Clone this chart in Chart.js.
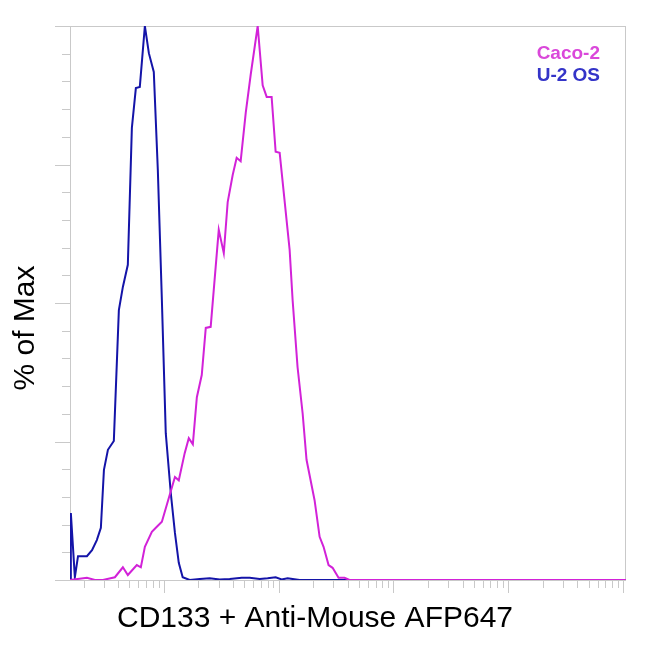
<!DOCTYPE html>
<html>
<head>
<meta charset="utf-8">
<script src="https://cdn.jsdelivr.net/npm/chart.js@4.4.1/dist/chart.umd.min.js"></script>
<style>
  html, body { margin: 0; padding: 0; background: #fff; }
  #wrap { width: 650px; height: 650px; }
</style>
</head>
<body>
<div id="wrap"><canvas id="histo" width="650" height="650"></canvas></div>
<script>
// series labels / colours
const seriesNames = ["Caco-2", "U-2 OS"];

// Caco-2 histogram (fluorescence, % of max)
const cacoX = [15.24, 21.4, 25.1, 29.5, 37.5, 44.0, 48.6, 58.2, 63.1, 68.4,
    78.7, 86.9, 96.2, 125, 135, 152, 165, 179, 194, 214,
    232, 256, 301, 333, 360, 398, 431, 467, 517, 571,
    657, 726, 787, 869, 942, 1021, 1247, 1324, 1462, 1618,
    1750, 2056, 2275, 2462, 2722, 2951, 3326, 3750, 4140, 1060000];
const cacoY = [0, 0.4, 0, 0, 0.5, 2.3, 0.9, 2.7, 2.3, 6.0,
    8.7, 9.6, 10.5, 18.6, 18.0, 22.9, 25.6, 24.5, 33.0, 37.0,
    45.5, 45.7, 63.2, 59.0, 68.2, 73.1, 76.2, 75.6, 84.3, 91.2,
    100, 89.3, 87.2, 87.2, 77.3, 77.1, 59.6, 50.5, 38.4, 30.1,
    21.7, 14.4, 7.8, 6.0, 2.7, 2.2, 0.4, 0.4, 0, 0];

// U-2 OS histogram
const u2osX = [15.24, 15.5, 16.8, 17.9, 21.4, 23.7, 26.1, 28.3, 30.1, 32.6,
    36.7, 40.6, 44.0, 48.6, 52.7, 57.1, 61.8, 68.4, 74.1, 81.8,
    88.7, 96.2, 104, 115, 125, 135, 146, 168,
    206, 251, 307, 375, 477, 560, 684, 802, 942, 1061,
    1197, 1523, 3388, 1060000];
const u2osY = [0, 12.1, 0.5, 4.3, 4.3, 5.4, 7.2, 9.4, 19.9, 23.5,
    25.1, 48.7, 52.9, 56.9, 81.6, 88.8, 89.0, 100, 95.1, 91.7,
    74.0, 50.5, 26.5, 15.7, 8.5, 3.1, 0.5, 0,
    0.2, 0.3, 0.1, 0.2, 0.4, 0.4, 0.2, 0.3, 0.5, 0.1,
    0.3, 0, 0, 0];

// axis ranges / tick positions
const xMin = 15.24, xMax = 1060000;
const xDecades = [10, 100, 1000, 10000, 100000];
const yStep = 5;

const lineColors = ["#d222d8", "#1414a8"];
const textColors = ["#da48da", "#3434c8"];
const axisGray = "#c9c9c9";

function toPoints(xs, ys) {
    return xs.map((x, i) => ({x: x, y: ys[i]}));
}

// frame, tick marks and the small legend
const decor = {
    id: 'decor',
    beforeDatasetsDraw(chart) {
        const {ctx, chartArea: a, scales} = chart;
        ctx.save();
        ctx.strokeStyle = axisGray;
        ctx.lineWidth = 1;
        ctx.strokeRect(a.left + 0.5, a.top + 0.5, a.right - a.left - 1, a.bottom - a.top);
        ctx.beginPath();
        scales.x.ticks.forEach(t => {
            const px = Math.round(scales.x.getPixelForValue(t.value)) + 0.5;
            const major = Math.abs(Math.log10(t.value) % 1) < 1e-6;
            ctx.moveTo(px, a.bottom);
            ctx.lineTo(px, a.bottom + (major ? 13 : 8));
        });
        scales.y.ticks.forEach(t => {
            const py = Math.round(scales.y.getPixelForValue(t.value)) + 0.5;
            const major = t.value % 25 === 0;
            ctx.moveTo(a.left, py);
            ctx.lineTo(a.left - (major ? 15 : 8), py);
        });
        ctx.stroke();
        ctx.restore();
    },
    afterDraw(chart) {
        const ctx = chart.ctx;
        ctx.save();
        ctx.font = 'bold 19px "Liberation Sans", Arial, sans-serif';
        ctx.textAlign = 'right';
        ctx.textBaseline = 'alphabetic';
        seriesNames.forEach((name, i) => {
            ctx.fillStyle = textColors[i];
            ctx.fillText(name, 600, 59 + i * 22);
        });
        ctx.restore();
    }
};

Chart.defaults.font.family = '"Liberation Sans", Arial, sans-serif';

const histo = new Chart(document.getElementById("histo"), {
    type: 'line',
    data: {
        datasets: [{
            label: seriesNames[0],
            data: toPoints(cacoX, cacoY),
            borderColor: lineColors[0],
            borderWidth: 2,
            pointRadius: 0,
            fill: false,
            tension: 0
        }, {
            label: seriesNames[1],
            data: toPoints(u2osX, u2osY),
            borderColor: lineColors[1],
            borderWidth: 2,
            pointRadius: 0,
            fill: false,
            tension: 0
        }]
    },
    options: {
        responsive: false,
        animation: false,
        layout: { padding: {left: 4, right: 24, top: 26, bottom: 20} },
        scales: {
            x: {
                type: 'logarithmic',
                min: xMin,
                max: xMax,
                grid: { display: false },
                border: { display: false },
                ticks: { display: false },
                afterBuildTicks: scale => {
                    const t = [];
                    xDecades.forEach(d => {
                        for (let k = 1; k <= 9; k++) {
                            const v = k * d;
                            if (v >= xMin && v <= xMax) t.push({value: v});
                        }
                    });
                    t.push({value: 1000000});
                    scale.ticks = t;
                },
                afterFit: scale => { scale.height = 14; }
            },
            y: {
                min: 0,
                max: 100,
                grid: { display: false },
                border: { display: false },
                ticks: { display: false, stepSize: yStep },
                afterFit: scale => { scale.width = 15; }
            }
        },
        plugins: {
            legend: { display: false },
            tooltip: { enabled: false },
            title: {
                display: true,
                position: 'bottom',
                text: 'CD133 + Anti-Mouse AFP647',
                color: '#000',
                font: { size: 30, weight: 'normal', lineHeight: '23px' },
                padding: { top: 13, bottom: 0 }
            },
            subtitle: {
                display: true,
                position: 'left',
                text: '% of Max',
                color: '#000',
                font: { size: 30, weight: 'normal', lineHeight: '36px' },
                padding: { top: 4, bottom: 11 }
            }
        }
    },
    plugins: [decor]
});
</script>
</body>
</html>
